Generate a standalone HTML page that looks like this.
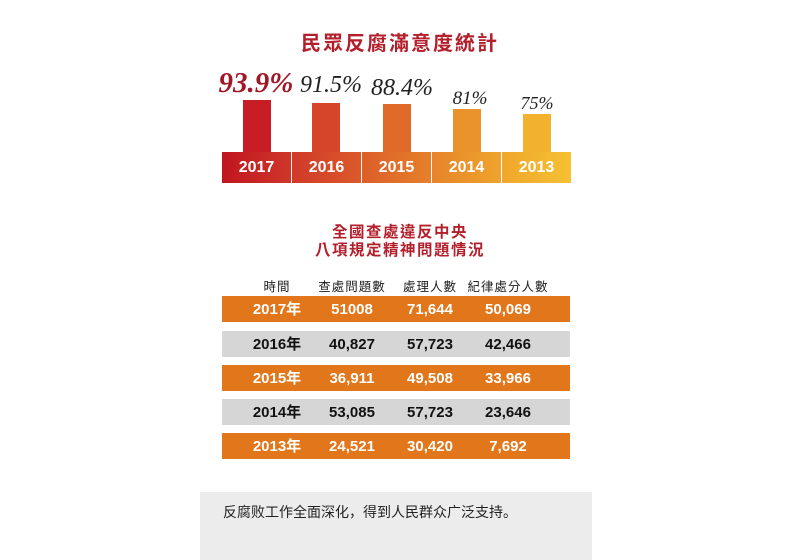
<!DOCTYPE html>
<html><head><meta charset="utf-8"><style>
body{margin:0;width:800px;height:560px;background:#fff;position:relative;overflow:hidden;font-family:"Liberation Sans","Noto Sans CJK TC",sans-serif}
.a{position:absolute}
.t1{left:0;width:800px;top:27px;text-align:center;font-size:20px;font-weight:bold;color:#b3202c;letter-spacing:2px}
.pct{font-family:"Liberation Serif",serif;font-style:italic;color:#222;text-align:center;width:80px}
.base{top:152px;height:31px;color:#fff;font-weight:bold;font-size:16px;text-align:center;line-height:31px}
.t2{left:0;width:800px;text-align:center;font-size:15.5px;font-weight:bold;color:#b3202c;letter-spacing:1.5px}
.row{left:222px;width:348px;height:26px;font-weight:bold;font-size:15px;line-height:27px}
.row span,.hd span{position:absolute;width:100px;text-align:center}
.o{background:#e2761a;color:#fff}
.g{background:#d6d6d6;color:#111}
.hd{left:222px;width:348px;top:276px;height:18px;font-size:12.5px;color:#222;letter-spacing:1px}
</style></head><body>
<div class="a t1">民眾反腐滿意度統計</div>

<div class="a pct" style="left:216px;top:67px;font-size:29px;font-weight:bold;color:#a01826">93.9%</div>
<div class="a pct" style="left:291px;top:72px;font-size:24px">91.5%</div>
<div class="a pct" style="left:362px;top:75px;font-size:24px">88.4%</div>
<div class="a pct" style="left:430px;top:88px;font-size:19px">81%</div>
<div class="a pct" style="left:497px;top:93px;font-size:18px">75%</div>

<div class="a" style="left:243px;top:100px;width:28px;height:52px;background:#c91d26"></div>
<div class="a" style="left:312px;top:103px;width:28px;height:49px;background:#d6442a"></div>
<div class="a" style="left:383px;top:104px;width:28px;height:48px;background:#df6a2a"></div>
<div class="a" style="left:453px;top:109px;width:28px;height:43px;background:#ea922b"></div>
<div class="a" style="left:523px;top:114px;width:28px;height:38px;background:#f2b22e"></div>

<div class="a base" style="left:222px;width:69px;background:linear-gradient(90deg,#c0151f,#d0362a)">2017</div>
<div class="a base" style="left:292px;width:69px;background:linear-gradient(90deg,#d0392a,#dc5a2a)">2016</div>
<div class="a base" style="left:362px;width:69px;background:linear-gradient(90deg,#dc5e2a,#e6802a)">2015</div>
<div class="a base" style="left:432px;width:69px;background:linear-gradient(90deg,#e6842b,#efa42c)">2014</div>
<div class="a base" style="left:502px;width:69px;background:linear-gradient(90deg,#efa72c,#f6c033)">2013</div>

<div class="a t2" style="top:220px">全國查處違反中央</div>
<div class="a t2" style="top:238px">八項規定精神問題情況</div>

<div class="a hd"><span style="left:5px">時間</span><span style="left:80px">查處問題數</span><span style="left:158px">處理人數</span><span style="left:236px">紀律處分人數</span></div>

<div class="a row o" style="top:296px"><span style="left:5px">2017年</span><span style="left:80px">51008</span><span style="left:158px">71,644</span><span style="left:236px">50,069</span></div>
<div class="a row g" style="top:331px"><span style="left:5px">2016年</span><span style="left:80px">40,827</span><span style="left:158px">57,723</span><span style="left:236px">42,466</span></div>
<div class="a row o" style="top:365px"><span style="left:5px">2015年</span><span style="left:80px">36,911</span><span style="left:158px">49,508</span><span style="left:236px">33,966</span></div>
<div class="a row g" style="top:399px"><span style="left:5px">2014年</span><span style="left:80px">53,085</span><span style="left:158px">57,723</span><span style="left:236px">23,646</span></div>
<div class="a row o" style="top:433px"><span style="left:5px">2013年</span><span style="left:80px">24,521</span><span style="left:158px">30,420</span><span style="left:236px">7,692</span></div>

<div class="a" style="left:200px;top:492px;width:392px;height:68px;background:#ececec"></div>
<div class="a" style="left:223px;top:502px;font-size:14px;color:#222;font-family:'Liberation Sans','Noto Sans CJK SC',sans-serif">反腐败工作全面深化，得到人民群众广泛支持。</div>
</body></html>
